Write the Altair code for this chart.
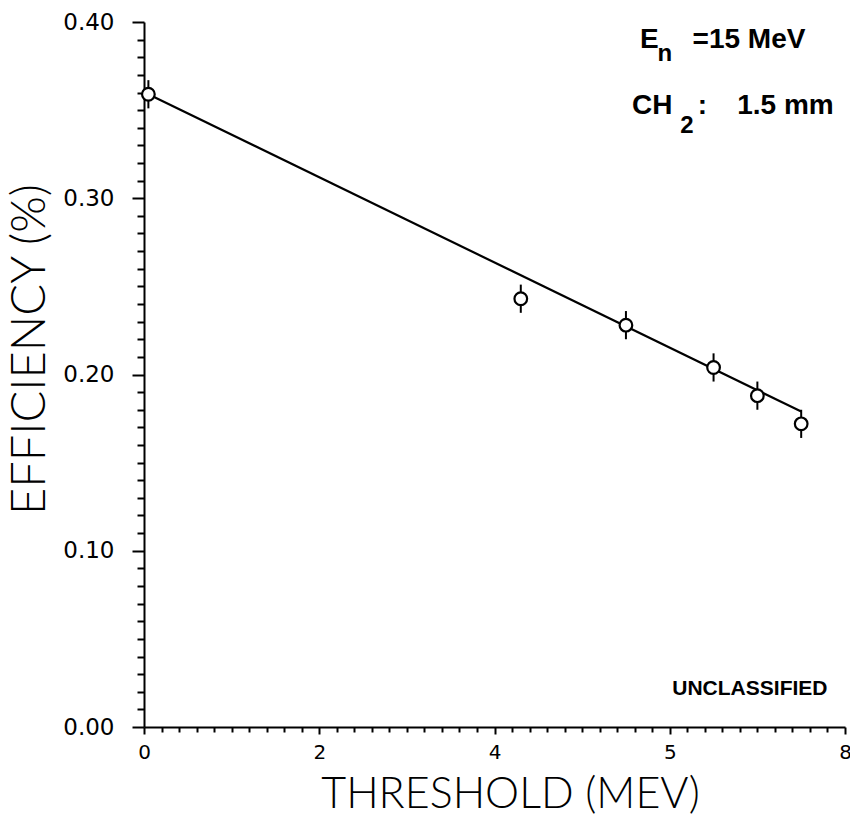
import altair as alt
import pandas as pd

# Measured data points (threshold in MeV, efficiency in %)
thr = [0.05, 4.3, 5.5, 6.5, 7.0, 7.5]
eff = [0.359, 0.243, 0.228, 0.204, 0.188, 0.172]
err = [0.008, 0.008, 0.008, 0.008, 0.008, 0.008]

# Fitted straight line (end points)
fit_x = [0.05, 7.5]
fit_y = [0.359, 0.179]

# Axis ticks / labels
x_major = [0, 2, 4, 6, 8]
x_labels = ["0", "2", "4", "5", "8"]

x_ticks = [round(i * 0.2, 1) for i in range(41)]
y_ticks = [round(i * 0.01, 2) for i in range(41)]

pts = pd.DataFrame({"x": thr, "y": eff, "lo": [e - d for e, d in zip(eff, err)],
                    "hi": [e + d for e, d in zip(eff, err)]})
fit = pd.DataFrame({"x": fit_x, "y": fit_y})

x_label_expr = " : ".join(
    f"datum.value == {v} ? '{t}'" for v, t in zip(x_major, x_labels)) + " : ''"
x_major_test = "indexof([" + ",".join(str(v) for v in x_major) + "], datum.value) >= 0"
y_major_test = "abs(datum.value*10 - round(datum.value*10)) < 1e-6"

xscale = alt.Scale(domain=[0, 8], nice=False, zero=False)
yscale = alt.Scale(domain=[0, 0.4], nice=False)

xaxis = alt.Axis(
    values=x_ticks, tickCount=len(x_ticks), labelExpr=x_label_expr,
    labelOverlap=False, labelFlush=False,
    tickSize={"condition": {"test": x_major_test, "value": 7}, "value": 5},
    tickColor="black", tickWidth=2, domainColor="black", domainWidth=2,
    labelFont="DejaVu Sans", labelFontSize=20, labelColor="black", labelPadding=8,
    grid=False, title="THRESHOLD  (MEV)", titleFont="Lato", titleFontWeight=300,
    titleFontSize=43, titleColor="black", titleX=366, titleY=80,
    titleBaseline="alphabetic", titleAlign="center",
)
yaxis = alt.Axis(
    values=y_ticks, tickCount=len(y_ticks),
    labelExpr=f"{y_major_test} ? format(datum.value, '.2f') : ''",
    labelOverlap=False, labelFlush=False,
    tickSize={"condition": {"test": y_major_test, "value": 12}, "value": 7},
    tickColor="black", tickWidth=2, domainColor="black", domainWidth=2,
    labelFont="DejaVu Sans", labelFontSize=23, labelColor="black", labelPadding=18,
    grid=False, title="EFFICIENCY  (%)", titleFont="Lato", titleFontWeight=300,
    titleFontSize=47, titleColor="black", titleX=-100, titleY=327,
    titleBaseline="alphabetic", titleAlign="center", titleAngle=270,
)

base_x = alt.X("x:Q", scale=xscale, axis=xaxis)
base_y = alt.Y("y:Q", scale=yscale, axis=yaxis)

line = alt.Chart(fit).mark_line(color="black", strokeWidth=2.2).encode(x=base_x, y=base_y)

bars = alt.Chart(pts).mark_rule(color="black", strokeWidth=2).encode(
    x=alt.X("x:Q", scale=xscale), y=alt.Y("lo:Q", scale=yscale), y2="hi:Q")

points = alt.Chart(pts).mark_point(shape="circle", filled=False, fill="white",
                                   fillOpacity=1, color="black", strokeWidth=2.2,
                                   size=160, opacity=1).encode(
    x=alt.X("x:Q", scale=xscale), y=alt.Y("y:Q", scale=yscale))


def label(text, x, y, size, weight="bold", align="left"):
    df = pd.DataFrame({"x": [x], "y": [y], "t": [text]})
    return alt.Chart(df).mark_text(align=align, baseline="alphabetic", font="Liberation Sans",
                                   fontSize=size, fontWeight=weight, color="black").encode(
        x=alt.X("x:Q", scale=xscale), y=alt.Y("y:Q", scale=yscale), text="t:N")


texts = [
    label("E", 5.66, 0.385, 28),
    label("n", 5.86, 0.378, 24),
    label("=15 MeV", 6.26, 0.385, 28),
    label("CH", 5.57, 0.348, 28),
    label("2", 6.12, 0.337, 24),
    label(":", 6.32, 0.348, 28),
    label("1.5 mm", 6.77, 0.348, 28),
    label("UNCLASSIFIED", 7.8, 0.018, 21, align="right"),
]

chart = alt.layer(line, bars, points, *texts).properties(
    width=701, height=705,
    padding={"left": 144, "top": 22, "right": 5, "bottom": 89},
    autosize=alt.AutoSizeParams(type="none"),
    background="white",
).configure_view(stroke=None)

chart.save("out.html", embed_options={"renderer": "svg", "actions": False})
